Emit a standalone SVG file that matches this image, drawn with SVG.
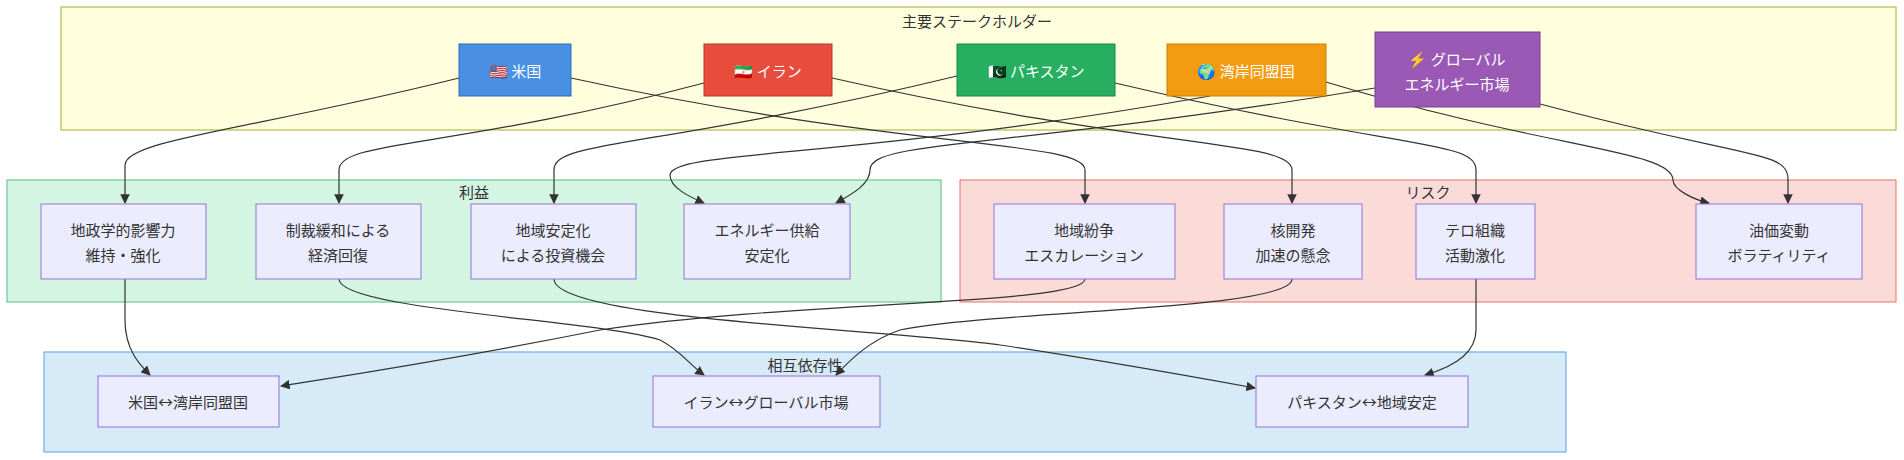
<svg xmlns="http://www.w3.org/2000/svg" width="1904" height="460" viewBox="0 0 1904 460">
<defs>
<marker id="ah" viewBox="0 0 10 10" refX="9" refY="5" markerWidth="8" markerHeight="8" orient="auto"><path d="M0,0 L10,5 L0,10 z" fill="#333"/></marker>
<style>
text{font-family:"Noto Sans CJK JP","Liberation Sans",sans-serif;font-size:15px;fill:#333;text-anchor:middle;dominant-baseline:central}
.w{fill:#fff}
.n{fill:#ececff;stroke:#9370db;stroke-width:1}
.e{fill:none;stroke:#333;stroke-width:1.2;marker-end:url(#ah)}
</style>
</defs>
<g id="clusters">
<rect x="61" y="7" width="1835" height="123" fill="#ffffde" stroke="#aaaa33"/>
<text x="977" y="20">主要ステークホルダー</text>
<rect x="7" y="180" width="934" height="122" fill="#d5f5e3" stroke="#52be80"/>
<text x="474" y="191">利益</text>
<rect x="960" y="180" width="936" height="122" fill="#fadbd8" stroke="#e57368"/>
<text x="1428" y="191">リスク</text>
<rect x="44" y="352" width="1522" height="100" fill="#d6eaf8" stroke="#5d9ee2"/>
<text x="805" y="364">相互依存性</text>
</g>
<g id="connectors">
<path class="e" d="M459,78 C250,130 125,140 125,165 L125,203"/>
<path class="e" d="M571,78 C900,150 1085,140 1085,170 L1085,203"/>
<path class="e" d="M704,83 C450,150 339,140 339,170 L339,203"/>
<path class="e" d="M832,78 C1150,150 1292,140 1292,170 L1292,203"/>
<path class="e" d="M957,76 C650,150 554,140 554,170 L554,203"/>
<path class="e" d="M1115,83 C1400,150 1476,140 1476,170 L1476,203"/>
<path class="e" d="M1210,96 C850,160 670,150 670,175 C670,188 690,197 704,203"/>
<path class="e" d="M1375,88 C1000,150 870,140 870,170 C870,185 850,195 836,203"/>
<path class="e" d="M1326,82 C1550,150 1673,150 1673,180 C1673,190 1695,200 1709,203"/>
<path class="e" d="M1540,104 C1750,160 1788,150 1788,180 L1788,203"/>
<path class="e" d="M125,279 L125,320 C125,350 140,365 150,375"/>
<path class="e" d="M339,279 C339,310 600,320 660,340 C680,350 690,365 704,375"/>
<path class="e" d="M554,279 C554,320 900,330 1000,345 C1100,360 1200,378 1255,388"/>
<path class="e" d="M1085,279 C1085,305 800,300 600,330 C450,360 350,375 281,386"/>
<path class="e" d="M1292,279 C1292,310 1000,310 900,330 C870,340 850,360 836,375"/>
<path class="e" d="M1476,279 L1476,330 C1476,350 1460,365 1425,375"/>
</g>
<g id="us"><rect x="459" y="44" width="112" height="52" fill="#4a90e2" stroke="#2e6db4"/><text class="w" x="515" y="70">🇺🇸 米国</text></g>
<g id="iran"><rect x="704" y="44" width="128" height="52" fill="#e74c3c" stroke="#b03a2e"/><text class="w" x="768" y="70">🇮🇷 イラン</text></g>
<g id="pak"><rect x="957" y="44" width="158" height="52" fill="#27ae60" stroke="#1e8449"/><text class="w" x="1036" y="70">🇵🇰 パキスタン</text></g>
<g id="gulf"><rect x="1167" y="44" width="159" height="52" fill="#f39c12" stroke="#c87f0a"/><text class="w" x="1246" y="70">🌍 湾岸同盟国</text></g>
<g id="global"><rect x="1375" y="32" width="165" height="75" fill="#9b59b6" stroke="#7d3c98"/><text class="w" x="1457" y="58">⚡ グローバル</text><text class="w" x="1457" y="83">エネルギー市場</text></g>
<g id="b1"><rect class="n" x="41" y="204" width="165" height="75"/><text x="123" y="229">地政学的影響力</text><text x="123" y="254">維持・強化</text></g>
<g id="b2"><rect class="n" x="256" y="204" width="165" height="75"/><text x="338" y="229">制裁緩和による</text><text x="338" y="254">経済回復</text></g>
<g id="b3"><rect class="n" x="471" y="204" width="165" height="75"/><text x="553" y="229">地域安定化</text><text x="553" y="254">による投資機会</text></g>
<g id="b4"><rect class="n" x="684" y="204" width="166" height="75"/><text x="767" y="229">エネルギー供給</text><text x="767" y="254">安定化</text></g>
<g id="r1"><rect class="n" x="994" y="204" width="181" height="75"/><text x="1084" y="229">地域紛争</text><text x="1084" y="254">エスカレーション</text></g>
<g id="r2"><rect class="n" x="1224" y="204" width="138" height="75"/><text x="1293" y="229">核開発</text><text x="1293" y="254">加速の懸念</text></g>
<g id="r3"><rect class="n" x="1416" y="204" width="119" height="75"/><text x="1475" y="229">テロ組織</text><text x="1475" y="254">活動激化</text></g>
<g id="r4"><rect class="n" x="1696" y="204" width="166" height="75"/><text x="1779" y="229">油価変動</text><text x="1779" y="254">ボラティリティ</text></g>
<g id="i1"><rect class="n" x="98" y="376" width="181" height="51"/><text x="188" y="401">米国↔湾岸同盟国</text></g>
<g id="i2"><rect class="n" x="653" y="376" width="227" height="51"/><text x="766" y="401">イラン↔グローバル市場</text></g>
<g id="i3"><rect class="n" x="1256" y="376" width="212" height="51"/><text x="1362" y="401">パキスタン↔地域安定</text></g>
</svg>
